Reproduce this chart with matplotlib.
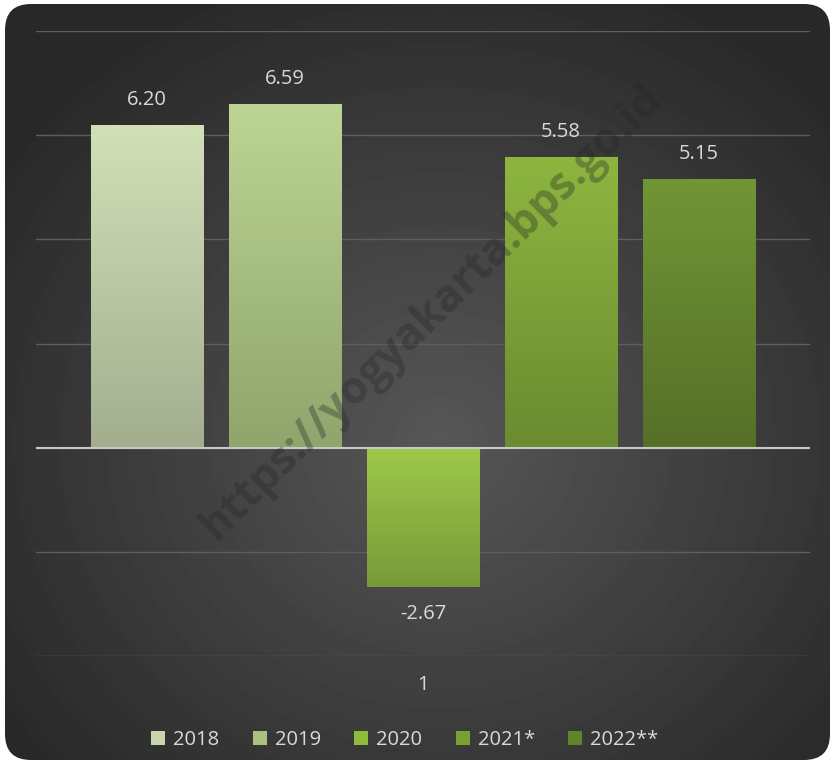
import numpy as np
import matplotlib.pyplot as plt
from matplotlib.patches import FancyBboxPatch, Patch
from matplotlib.colors import LinearSegmentedColormap

plt.rcParams['font.family'] = ['Open Sans', 'DejaVu Sans']

# data
years = ['2018', '2019', '2020', '2021*', '2022**']
growth = [6.20, 6.59, -2.67, 5.58, 5.15]
labels = ['6.20', '6.59', '-2.67', '5.58', '5.15']
category = '1'

# gradient colours per bar (top, bottom) and legend swatch colour
top_cols = ['#d2e0b8', '#bcd594', '#9ec94b', '#8db640', '#709636']
bot_cols = ['#a2ae8e', '#8fa56c', '#779a38', '#6a8b30', '#566f27']
swatch = ['#c8d6ae', '#a9c27f', '#8dbb3a', '#77a233', '#608529']

fig = plt.figure(figsize=(8.34, 7.63), dpi=100)
fig.patch.set_facecolor('white')

# background card with radial gradient
bg = fig.add_axes([0, 0, 1, 1])
bg.set_xlim(0, 834)
bg.set_ylim(763, 0)
bg.axis('off')
yy, xx = np.mgrid[0:763, 0:834]
r = np.sqrt(((xx - 440) / 560) ** 2 + ((yy - 440) / 520) ** 2)
shade = np.clip(0.34 - 0.19 * r, 0.16, 0.34)
img = bg.imshow(shade, cmap='gray', vmin=0, vmax=1, extent=(0, 834, 763, 0),
                interpolation='bilinear')
card = FancyBboxPatch((5, 4), 825, 756, boxstyle='round,pad=0,rounding_size=26',
                      transform=bg.transData, facecolor='none', edgecolor='none')
bg.add_patch(card)
img.set_clip_path(card)

# main axes
ax = fig.add_axes([36 / 834, (763 - 656) / 763, 774 / 834, 625 / 763])
ax.patch.set_alpha(0)
for s in ax.spines.values():
    s.set_visible(False)
ax.set_yticks([-4, -2, 0, 2, 4, 6, 8])
ax.set_xticks([])
ax.tick_params(left=False, labelleft=False)
ax.grid(axis='y', color='#5e5e5e', linewidth=1)
ax.set_axisbelow(True)

x = np.arange(len(years))
bars = ax.bar(x, growth, width=0.813, color='none', zorder=2)
for i, b in enumerate(bars):
    cmap = LinearSegmentedColormap.from_list('g', [bot_cols[i], top_cols[i]])
    y0, y1 = min(0, growth[i]), max(0, growth[i])
    grad = np.linspace(0, 1, 256).reshape(-1, 1)
    im = ax.imshow(grad, cmap=cmap, aspect='auto', origin='lower',
                   extent=(x[i] - 0.4065, x[i] + 0.4065, y0, y1), zorder=2)
    im.set_clip_path(b)
    ax.text(x[i], growth[i] + (0.48 if growth[i] > 0 else -0.52), labels[i],
            ha='center', va='center', color='#d9d9d9', fontsize=14.5)

ax.axhline(0, color='#c8c8c8', linewidth=1.5, zorder=3)
ax.set_xlim(-0.806, 4.806)
ax.set_ylim(-4, 8)

ax.text(2, -4.55, category, ha='center', va='center', color='#d9d9d9', fontsize=14.5)

# watermark
fig.text(0.518, 0.59, 'https://yogyakarta.bps.go.id', rotation=44.5,
         ha='center', va='center', fontsize=32, fontweight='bold',
         color='#262626', alpha=0.35, zorder=5)

handles = [Patch(facecolor=c, edgecolor='none') for c in swatch]
leg = fig.legend(handles, years, loc='center', bbox_to_anchor=(405 / 834, 1 - 740 / 763),
                 ncol=5, frameon=False, fontsize=14.5, handlelength=0.7, handleheight=0.7,
                 handletextpad=0.4, columnspacing=1.65, labelcolor='#d9d9d9')

fig.savefig('out.png', dpi=100, facecolor='white')
